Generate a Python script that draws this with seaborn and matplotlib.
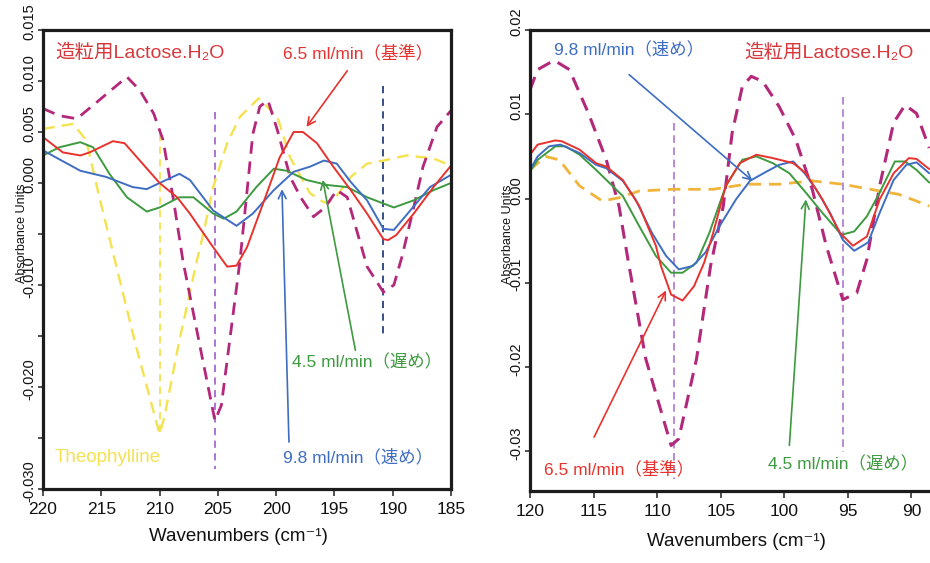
import numpy as np
import matplotlib
matplotlib.use("Agg")
import matplotlib.pyplot as plt
import matplotlib.transforms as mtransforms
import seaborn as sns

sns.set_theme(style="white")
plt.rcParams["font.family"] = ["Liberation Sans", "Noto Sans CJK JP", "DejaVu Sans"]

# ---------------- left panel: 220-185 cm-1 ----------------
L_lac_x = [220.0, 218.6, 217.1, 215.2, 212.8, 211.7, 210.5, 209.7, 208.8, 208.0, 206.5, 205.25,
           204.7, 203.1, 202.0, 201.4, 200.7, 199.9, 198.8, 197.9, 196.8, 195.8, 194.8, 193.9,
           192.2, 190.8, 189.9, 189.2, 188.2, 187.4, 186.2, 185.0]
L_lac_y = [0.0073, 0.0066, 0.0063, 0.0081, 0.0104, 0.0091, 0.0068, 0.0042, -0.0017, -0.0076, -0.0162, -0.0233,
           -0.0218, -0.0076, 0.0048, 0.0075, 0.0081, 0.0052, 0.0006, -0.0014, -0.0033, -0.0024, -0.0007, -0.0014,
           -0.0082, -0.0107, -0.0100, -0.0072, -0.0024, 0.0016, 0.0055, 0.0071]

L_theo_x = [220.0, 217.4, 216.3, 215.1, 213.7, 212.0, 210.0, 209.6, 208.4, 206.8, 206.25, 205.4,
            204.2, 203.1, 201.5, 199.9, 198.8, 197.1, 195.9, 195.1, 193.6, 192.2, 190.8, 188.8,
            186.5, 185.0]
L_theo_y = [0.0053, 0.0058, 0.0042, -0.0017, -0.0082, -0.0161, -0.0246, -0.0230, -0.0160, -0.0076, -0.0050, -0.0004,
            0.0039, 0.0065, 0.0083, 0.0065, 0.0025, -0.0010, -0.0019, -0.0017, 0.0006, 0.0019, 0.0022, 0.0027,
            0.0024, 0.0017]

L_65_x = [220.0, 218.3, 216.8, 216.0, 214.0, 213.0, 210.0, 208.5, 207.4, 205.4, 204.2, 203.4, 202.5,
          200.8, 199.7, 198.5, 197.7, 196.5, 195.1, 193.6, 192.2, 190.8, 190.4, 189.7, 188.2, 186.5, 185.0]
L_65_y = [0.0045, 0.0030, 0.0027, 0.0030, 0.0041, 0.0039, 0.0000, -0.0014, -0.0030, -0.0063, -0.0082, -0.0081, -0.0063,
          -0.0010, 0.0025, 0.0050, 0.0050, 0.0039, 0.0016, -0.0007, -0.0030, -0.0055, -0.0056, -0.0051, -0.0030, -0.0004, 0.0017]

L_98_x = [220.0, 216.8, 214.6, 212.3, 211.1, 210.0, 208.3, 207.4, 205.4, 203.4, 202.0, 200.2, 198.5,
          197.1, 195.9, 194.8, 193.6, 192.2, 190.8, 189.9, 188.5, 186.8, 185.0]
L_98_y = [0.0032, 0.0012, 0.0006, -0.0004, -0.0006, 0.0000, 0.0009, 0.0003, -0.0027, -0.0042, -0.0030, -0.0007, 0.0011,
          0.0016, 0.0022, 0.0019, 0.0001, -0.0017, -0.0045, -0.0046, -0.0027, -0.0004, 0.0008]

L_45_x = [220.0, 218.6, 216.8, 215.7, 214.3, 212.8, 211.1, 210.0, 208.3, 207.1, 205.4, 204.5, 203.4,
          201.7, 200.2, 199.1, 197.4, 195.6, 193.9, 192.2, 189.9, 188.2, 186.5, 185.0]
L_45_y = [0.0027, 0.0035, 0.0040, 0.0035, 0.0009, -0.0014, -0.0028, -0.0024, -0.0014, -0.0014, -0.0030, -0.0035, -0.0028,
          -0.0004, 0.0014, 0.0012, 0.0003, -0.0002, -0.0004, -0.0014, -0.0024, -0.0017, -0.0007, 0.0000]

# marker lines: position, top, bottom
L_marks = [(210.0, 0.0048, -0.0246), (205.25, 0.0070, -0.0280), (190.8, 0.0095, -0.0149)]

L_xticks = [220, 215, 210, 205, 200, 195, 190, 185]
L_yticks = [0.015, 0.010, 0.005, 0.000, -0.005, -0.010, -0.015, -0.020, -0.025, -0.030]
L_ylabels = ["0.015", "0.010", "0.005", "0.000", "", "-0.010", "", "-0.020", "", "-0.030"]

# ---------------- right panel: 120-88 cm-1 ----------------
R_lac_x = [120.0, 119.4, 118.1, 116.9, 115.4, 114.0, 113.0, 112.3, 110.9, 108.9, 108.3, 106.9, 105.8,
           104.8, 104.1, 103.3, 102.6, 101.7, 100.4, 99.1, 97.8, 96.7, 95.4, 94.3, 93.5, 92.5, 91.4,
           90.5, 89.6, 88.6]
R_lac_y = [0.0129, 0.0153, 0.0164, 0.0153, 0.0101, 0.0046, -0.0009, -0.0072, -0.0190, -0.0293, -0.0285, -0.0190, -0.0080,
           -0.0009, 0.0078, 0.0133, 0.0145, 0.0139, 0.0109, 0.0070, 0.0011, -0.0056, -0.0120, -0.0112, -0.0072, 0.0015, 0.0090,
           0.0111, 0.0101, 0.0060]

R_theo_x = [120.0, 118.8, 117.7, 116.1, 114.3, 113.0, 111.4, 108.8, 105.6, 103.0, 100.4, 97.8, 95.4,
            92.5, 91.0, 89.6, 88.6]
R_theo_y = [0.0034, 0.0050, 0.0046, 0.0015, -0.0003, 0.0001, 0.0009, 0.0011, 0.0011, 0.0017, 0.0017, 0.0021, 0.0017,
            0.0009, 0.0005, -0.0003, -0.0009]

R_65_x = [120.0, 119.4, 118.0, 117.5, 116.1, 114.8, 114.0, 112.7, 111.4, 110.1, 109.7, 108.9, 108.0,
          107.1, 106.3, 105.6, 104.6, 103.5, 102.2, 100.9, 99.3, 98.3, 97.0, 95.6, 94.6, 93.5, 92.5,
          91.4, 90.2, 89.6, 88.6]
R_65_y = [0.0052, 0.0064, 0.0069, 0.0068, 0.0058, 0.0042, 0.0038, 0.0022, -0.0009, -0.0056, -0.0080, -0.0114, -0.0121,
          -0.0104, -0.0076, -0.0041, 0.0015, 0.0042, 0.0052, 0.0048, 0.0042, 0.0030, -0.0001, -0.0041, -0.0056, -0.0045, -0.0001,
          0.0030, 0.0048, 0.0047, 0.0035]

R_98_x = [120.0, 119.4, 118.5, 117.6, 116.1, 114.8, 114.0, 112.7, 111.7, 110.4, 109.3, 108.3, 107.2,
          106.2, 105.1, 103.8, 102.7, 101.4, 100.4, 99.3, 98.4, 97.5, 96.4, 95.4, 94.5, 93.4, 92.5,
          91.4, 90.4, 89.6, 88.6]
R_98_y = [0.0034, 0.0050, 0.0062, 0.0064, 0.0054, 0.0040, 0.0036, 0.0021, -0.0001, -0.0041, -0.0068, -0.0084, -0.0080,
          -0.0064, -0.0033, -0.0001, 0.0021, 0.0032, 0.0040, 0.0044, 0.0030, 0.0011, -0.0017, -0.0049, -0.0062, -0.0052, -0.0017,
          0.0022, 0.0040, 0.0043, 0.0030]

R_45_x = [120.0, 119.4, 118.0, 117.2, 116.1, 114.8, 112.7, 111.4, 110.1, 108.9, 108.0, 106.9, 105.9,
          104.6, 103.3, 102.2, 100.9, 99.6, 98.3, 97.0, 95.5, 94.5, 93.5, 92.5, 91.3, 90.5, 89.6, 88.6]
R_45_y = [0.0032, 0.0046, 0.0062, 0.0062, 0.0052, 0.0034, 0.0003, -0.0033, -0.0068, -0.0088, -0.0088, -0.0076, -0.0041,
          0.0015, 0.0046, 0.0050, 0.0042, 0.0030, 0.0007, -0.0017, -0.0043, -0.0039, -0.0021, 0.0007, 0.0044, 0.0044, 0.0034, 0.0019]

R_marks = [(108.65, 0.0090, -0.0333), (95.4, 0.0121, -0.0301)]

R_xticks = [120, 115, 110, 105, 100, 95, 90]
R_yticks = [0.02, 0.01, 0.00, -0.01, -0.02, -0.03]
R_ylabels = ["0.02", "0.01", "0.00", "-0.01", "-0.02", "-0.03"]

# ---------------- styling ----------------
C_RED = "#e8322d"
C_BLUE = "#3e6dc2"
C_GREEN = "#3d9a3f"
C_LAC = "#b3287a"
C_THEO_L = "#f4e24e"
C_THEO_R = "#f0b43a"
C_VIOLET = "#a56ad0"
C_NAVY = "#26407f"
C_TXT_RED = "#d8383c"

JP = ["Liberation Sans", "Noto Sans CJK JP", "DejaVu Sans"]

fig = plt.figure(figsize=(9.3, 5.63), dpi=100)
ax1 = fig.add_axes([43 / 930, 1 - 489 / 563, 408 / 930, 459 / 563])
ax2 = fig.add_axes([530 / 930, 1 - 491 / 563, 445 / 930, 461 / 563])


def draw(ax, x, y, color, lw, dashes=None):
    sns.lineplot(x=x, y=y, ax=ax, color=color, linewidth=lw, estimator=None, sort=False)
    line = ax.lines[-1]
    if dashes is not None:
        line.set_dashes(dashes)
    return line


def marker_lines(ax, marks, colors, lw, dashes):
    for (xm, top, bot), c in zip(marks, colors):
        ln = draw(ax, [xm, xm], [top, bot], c, lw, dashes)
        ln.set_zorder(1.5)


# left panel
marker_lines(ax1, L_marks, [C_THEO_L, C_VIOLET, C_NAVY], 1.3, (4, 3))
draw(ax1, L_theo_x, L_theo_y, C_THEO_L, 1.7, (5, 3))
draw(ax1, L_lac_x, L_lac_y, C_LAC, 2.0, (4.5, 2.8))
draw(ax1, L_45_x, L_45_y, C_GREEN, 1.4)
draw(ax1, L_98_x, L_98_y, C_BLUE, 1.4)
draw(ax1, L_65_x, L_65_y, C_RED, 1.4)

# right panel
marker_lines(ax2, R_marks, [C_VIOLET, C_VIOLET], 1.1, (5, 3))
draw(ax2, R_theo_x, R_theo_y, C_THEO_R, 2.0, (4.5, 2.8))
draw(ax2, R_lac_x, R_lac_y, C_LAC, 2.2, (4.5, 2.8))
draw(ax2, R_45_x, R_45_y, C_GREEN, 1.4)
draw(ax2, R_98_x, R_98_y, C_BLUE, 1.4)
draw(ax2, R_65_x, R_65_y, C_RED, 1.4)

# axes, ticks, labels
ax1.set_xlim(220, 185)
ax1.set_ylim(-0.030, 0.015)
ax2.set_xlim(120, 85)
ax2.set_ylim(-0.0347, 0.0200)

label_lift = mtransforms.ScaledTranslation(0, 6 / 72, fig.dpi_scale_trans)

for ax, xt, yt, yl in [(ax1, L_xticks, L_yticks, L_ylabels), (ax2, R_xticks, R_yticks, R_ylabels)]:
    ax.set_xticks(xt)
    ax.set_xticklabels([str(v) for v in xt], fontsize=12.5)
    ax.set_yticks(yt)
    ax.set_yticklabels(yl, fontsize=10.5)
    ax.tick_params(axis="both", direction="out", width=1.1, color="#222222",
                   bottom=True, left=True, labelcolor="#111111")
    ax.tick_params(axis="x", length=5, pad=4)
    ax.tick_params(axis="y", length=3.5, pad=1)
    for lab in ax.get_yticklabels():
        lab.set_rotation(90)
        lab.set_va("center")
        lab.set_transform(lab.get_transform() + label_lift)
    for s in ax.spines.values():
        s.set_linewidth(2.3)
        s.set_color("#1c1c1c")
    ax.set_xlabel("Wavenumbers (cm⁻¹)", fontsize=13.5, color="#111111")
    ax.set_ylabel("Absorbance Units", fontsize=9, color="#111111")
    ax.grid(False)

ax1.xaxis.set_label_coords(0.48, -0.085)
ax2.xaxis.set_label_coords(0.465, -0.092)
ax1.yaxis.set_label_coords(-0.037, 0.558)
ax2.yaxis.set_label_coords(-0.037, 0.558)

# annotations, left panel
ax1.text(218.97, 0.01275, "造粒用Lactose.H₂O", color=C_TXT_RED, fontsize=14, family=JP, va="center")
ax1.text(199.4, 0.01275, "6.5 ml/min（基準）", color=C_RED, fontsize=12.5, family=JP, va="center")
ax1.text(198.6, -0.01755, "4.5 ml/min（遅め）", color=C_GREEN, fontsize=12.5, family=JP, va="center")
ax1.text(199.4, -0.02686, "9.8 ml/min（速め）", color=C_BLUE, fontsize=12.5, family=JP, va="center")
ax1.text(218.97, -0.02696, "Theophylline", color=C_THEO_L, fontsize=13.5, family=JP, va="center")

arrow = dict(arrowstyle="->", lw=1.2, shrinkA=0, shrinkB=0, mutation_scale=14)
ax1.annotate("", xy=(197.4, 0.0055), xytext=(193.9, 0.0110), arrowprops=dict(arrow, color=C_RED))
ax1.annotate("", xy=(196.0, 0.0003), xytext=(193.2, -0.0164), arrowprops=dict(arrow, color=C_GREEN))
ax1.annotate("", xy=(199.5, -0.0006), xytext=(198.9, -0.0254), arrowprops=dict(arrow, color=C_BLUE))

# annotations, right panel
ax2.text(118.1, 0.01775, "9.8 ml/min（速め）", color=C_BLUE, fontsize=12.5, family=JP, va="center")
ax2.text(103.15, 0.01728, "造粒用Lactose.H₂O", color=C_TXT_RED, fontsize=14, family=JP, va="center")
ax2.text(118.9, -0.0321, "6.5 ml/min（基準）", color=C_RED, fontsize=12.5, family=JP, va="center")
ax2.text(101.3, -0.0315, "4.5 ml/min（遅め）", color=C_GREEN, fontsize=12.5, family=JP, va="center")

ax2.annotate("", xy=(102.5, 0.0021), xytext=(112.2, 0.0147), arrowprops=dict(arrow, color=C_BLUE))
ax2.annotate("", xy=(109.3, -0.0109), xytext=(114.96, -0.0283), arrowprops=dict(arrow, color=C_RED))
ax2.annotate("", xy=(98.3, -0.0001), xytext=(99.6, -0.0293), arrowprops=dict(arrow, color=C_GREEN))

fig.savefig("out.png", dpi=100, facecolor="white")
